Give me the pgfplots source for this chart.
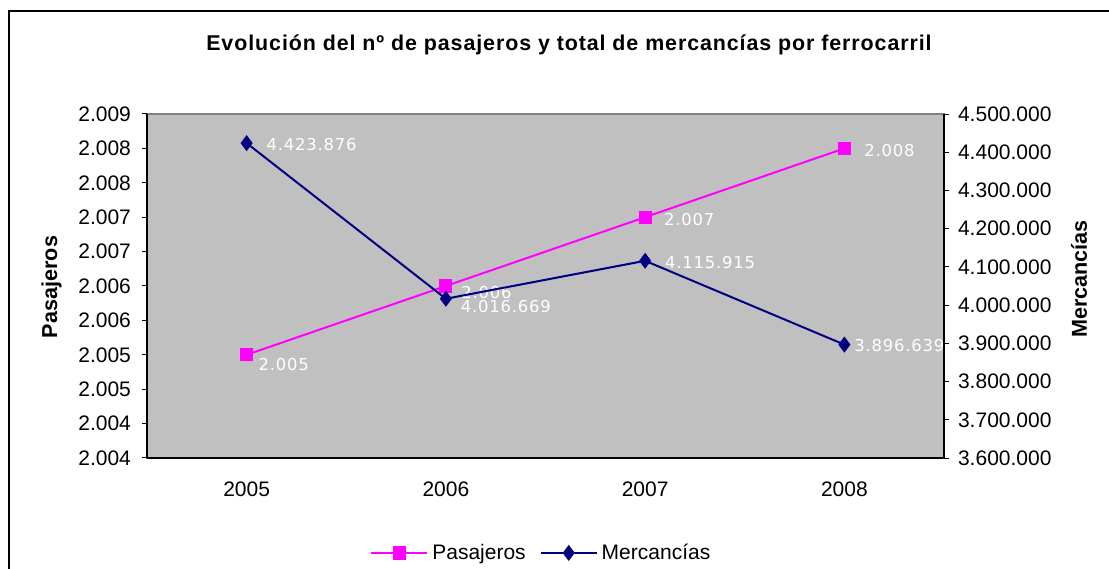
\documentclass[border=0pt]{standalone}
\usepackage{fontspec}
\setmainfont{Liberation Sans}
\newfontfamily\lblfont[LetterSpace=5]{DejaVu Sans}
\newfontfamily\titlefont[LetterSpace=4.3]{Liberation Sans}
\usepackage{pgfplots}
\pgfplotsset{compat=1.18}
\definecolor{pas}{HTML}{FF00FF}
\definecolor{mer}{HTML}{000080}
\definecolor{plotgray}{HTML}{C0C0C0}
\definecolor{bordergray}{HTML}{808080}
\pgfplotsset{
  common/.style={
    at={(73.5pt,55pt)}, anchor=south west,
    scale only axis, width=398.5pt, height=172pt,
    xmin=-0.5, xmax=3.5,
    tick align=outside,
    major tick length=2.5pt,
    minor tick length=3pt,
    tick style={black, line width=0.5pt},
    axis line style={black, line width=0.8pt},
    ticklabel style={font=\fontsize{10.5}{12}\selectfont},
    /pgf/number format/assume math mode=true,
    scaled y ticks=false,
    clip=false,
  },
  lbl/.style={
    nodes near coords,
    point meta=explicit symbolic,
    visualization depends on={\thisrow{dx} \as \dx},
    visualization depends on={\thisrow{dy} \as \dy},
    nodes near coords style={anchor=west, inner sep=0pt, text=white,
      font=\lblfont\fontsize{8.2}{10}\selectfont, xshift=\dx pt, yshift=\dy pt},
  },
}
\pgfplotstableread{
x y dx dy lab
0 2005 5.5 -5 2.005
1 2006 7.25 -3.5 2.006
2 2007 9 -1 2.007
3 2008 9.5 -1 2.008
}\pas
\pgfplotstableread{
x y dx dy lab
0 4423876 9.5 -0.5 4.423.876
1 4016669 7 -4 4.016.669
2 4115915 9.5 -1 4.115.915
3 3896639 4.5 -0.5 3.896.639
}\mer
\begin{document}
\begin{tikzpicture}
\useasboundingbox (0,0) rectangle (554.5pt,284pt);
\draw[line width=0.6pt] (4.5pt,-10pt) -- (4.5pt,278.5pt) -- (570pt,278.5pt);
\begin{axis}[common,
  ymin=2003.5, ymax=2008.5,
  axis background/.style={fill=plotgray, draw=bordergray, line width=0.8pt},
  axis x line*=bottom, axis y line*=left,
  xtick={0,1,2,3}, xticklabels={2005,2006,2007,2008},
  xtick style={draw=none},
  minor xtick={-0.5,0.5,1.5,2.5,3.5},
  xticklabel style={yshift=-6pt},
  ytick={2003.5,2004,2004.5,2005,2005.5,2006,2006.5,2007,2007.5,2008,2008.5},
  yticklabels={2.004,2.004,2.005,2.005,2.006,2.006,2.007,2.007,2.008,2.008,2.009},
  yticklabel style={xshift=-2pt},
]
\addplot[pas, line width=1pt, mark=square*, mark size=2.8pt, mark options={solid}, lbl]
  table[x=x, y=y, meta=lab] {\pas};
\end{axis}
\begin{axis}[common,
  ymin=3600000, ymax=4500000,
  axis x line=none, axis y line*=right,
  ytick={3600000,3700000,3800000,3900000,4000000,4100000,4200000,4300000,4400000,4500000},
  yticklabels={3.600.000,3.700.000,3.800.000,3.900.000,4.000.000,4.100.000,4.200.000,4.300.000,4.400.000,4.500.000},
  yticklabel style={xshift=1pt},
  legend columns=2,
  legend style={at={(0.496,-0.276)}, anchor=center, draw=none, fill=none,
    font=\fontsize{10.5}{12}\selectfont, inner sep=0pt,
    /tikz/every even column/.append style={column sep=5pt}},
  legend image code/.code={\draw[mark repeat=2,mark phase=2] plot coordinates {(0pt,0pt) (14pt,0pt) (28pt,0pt)};},
]
\addlegendimage{pas, line width=1pt, mark=square*, mark size=2.8pt}
\addlegendentry{Pasajeros}
\addplot[mer, line width=1pt, mark=diamond*, mark size=3.2pt, lbl]
  table[x=x, y=y, meta=lab] {\mer};
\addlegendentry{Mercancías}
\end{axis}
\node[font=\titlefont\bfseries\fontsize{10.7}{12}\selectfont] at (284.5pt,261.5pt) {Evolución del nº de pasajeros y total de mercancías por ferrocarril};
\node[font=\bfseries\fontsize{10.8}{12}\selectfont, rotate=90] at (25.8pt,140.5pt) {Pasajeros};
\node[font=\bfseries\fontsize{10.8}{12}\selectfont, rotate=90] at (539.5pt,144.5pt) {Mercancías};
\end{tikzpicture}
\end{document}
